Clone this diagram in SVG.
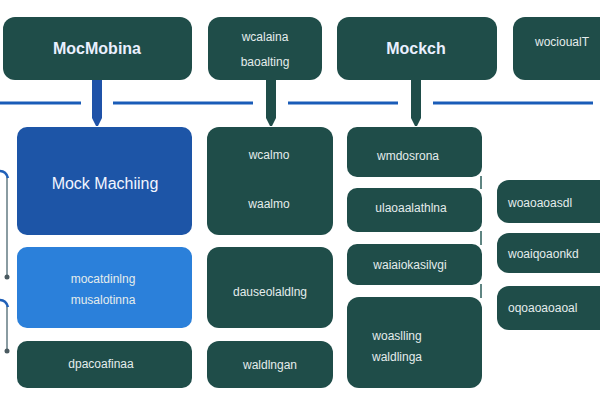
<svg xmlns="http://www.w3.org/2000/svg" width="600" height="400" viewBox="0 0 600 400">
<style>
.dk{fill:#1f4d49}
.bl{fill:#1d55a7}
.lb{fill:#2b80da}
.hd{font-family:"Liberation Sans",Arial,sans-serif;font-size:16px;font-weight:bold;fill:#eaf0ff;text-anchor:middle}
.lg{font-family:"Liberation Sans",Arial,sans-serif;font-size:16px;fill:#f2f5ff;text-anchor:middle}
.sm{font-family:"Liberation Sans",Arial,sans-serif;font-size:12px;fill:#e4ecec;text-anchor:middle}
.smL{font-family:"Liberation Sans",Arial,sans-serif;font-size:12px;fill:#e4ecec}
.hl{stroke:#1a5cb8;stroke-width:3;fill:none}
.lc{stroke:#8a9ca2;stroke-width:2;fill:none}
</style>
<rect width="600" height="400" fill="#ffffff"/>
<g id="connectors">
<line class="hl" x1="0" y1="103" x2="81" y2="103"/>
<line class="hl" x1="113" y1="103" x2="253" y2="103"/>
<line class="hl" x1="288" y1="103" x2="398" y2="103"/>
<line class="hl" x1="433" y1="103" x2="593" y2="103"/>
<path d="M92 78 H102 V118 L98 126 H96 L92 118 Z" fill="#1f52a8"/>
<path d="M266 78 H276 V118 L272 126 H270 L266 118 Z" fill="#1f4d49"/>
<path d="M411 78 H421 V118 L417 126 H415 L411 118 Z" fill="#1f4d49"/>
<path class="lc" d="M7 177 V276"/>
<path d="M0 171 Q6 171 8 178" stroke="#2060b8" stroke-width="2.5" fill="none"/>
<circle cx="7" cy="277" r="2.5" fill="#4a5a60"/>
<path class="lc" d="M7 306 V350"/>
<path d="M0 300 Q6 300 8 307" stroke="#2060b8" stroke-width="2.5" fill="none"/>
<circle cx="7" cy="351" r="2.5" fill="#4a5a60"/>
<line x1="481" y1="176" x2="481" y2="189" stroke="#2a5c58" stroke-width="1.5"/>
<line x1="481" y1="231" x2="481" y2="245" stroke="#2a5c58" stroke-width="1.5"/>
<line x1="481" y1="284" x2="481" y2="298" stroke="#2a5c58" stroke-width="1.5"/>
</g>
<g id="n1"><rect class="dk" x="3" y="17" width="189" height="63" rx="12"/><text class="hd" x="97" y="54">MocMobina</text></g>
<g id="n2"><rect class="dk" x="208" y="17" width="114" height="63" rx="12"/><text class="sm" x="265" y="41">wcalaina</text><text class="sm" x="265" y="66">baoalting</text></g>
<g id="n3"><rect class="dk" x="337" y="17" width="160" height="63" rx="12"/><text class="hd" x="416" y="54">Mockch</text></g>
<g id="n4"><rect class="dk" x="513" y="17" width="100" height="63" rx="12"/><text class="smL" x="535" y="46">wocioualT</text></g>
<g id="n5"><rect class="bl" x="17" y="127" width="175" height="108" rx="10"/><text class="lg" x="105" y="189">Mock  Machiing</text></g>
<g id="n6"><rect class="lb" x="17" y="247" width="175" height="81" rx="10"/><text class="sm" x="103" y="283">mocatdinlng</text><text class="sm" x="103" y="304">musalotinna</text></g>
<g id="n7"><rect class="dk" x="17" y="341" width="175" height="47" rx="10"/><text class="sm" x="101" y="368">dpacoafinaa</text></g>
<g id="n8"><rect class="dk" x="207" y="127" width="126" height="108" rx="12"/><text class="sm" x="269" y="159">wcalmo</text><text class="sm" x="269" y="208">waalmo</text></g>
<g id="n9"><rect class="dk" x="207" y="247" width="126" height="81" rx="12"/><text class="sm" x="270" y="296">dauseolaldlng</text></g>
<g id="n10"><rect class="dk" x="207" y="341" width="126" height="47" rx="12"/><text class="sm" x="270" y="369">waldlngan</text></g>
<g id="n11"><rect class="dk" x="347" y="127" width="135" height="50" rx="10"/><text class="sm" x="408" y="160">wmdosrona</text></g>
<g id="n12"><rect class="dk" x="347" y="188" width="135" height="44" rx="10"/><text class="sm" x="411" y="212">ulaoaalathlna</text></g>
<g id="n13"><rect class="dk" x="347" y="244" width="135" height="41" rx="10"/><text class="sm" x="410" y="269">waiaiokasilvgi</text></g>
<g id="n14"><rect class="dk" x="347" y="297" width="135" height="91" rx="12"/><text class="sm" x="397" y="340">woaslling</text><text class="sm" x="397" y="361">waldlinga</text></g>
<g id="n15"><rect class="dk" x="497" y="180" width="115" height="43" rx="12"/><text class="smL" x="508" y="207">woaoaoasdl</text></g>
<g id="n16"><rect class="dk" x="497" y="233" width="115" height="40" rx="12"/><text class="smL" x="508" y="258">woaiqoaonkd</text></g>
<g id="n17"><rect class="dk" x="497" y="286" width="115" height="44" rx="12"/><text class="smL" x="508" y="312">oqoaoaoaoal</text></g>
</svg>
